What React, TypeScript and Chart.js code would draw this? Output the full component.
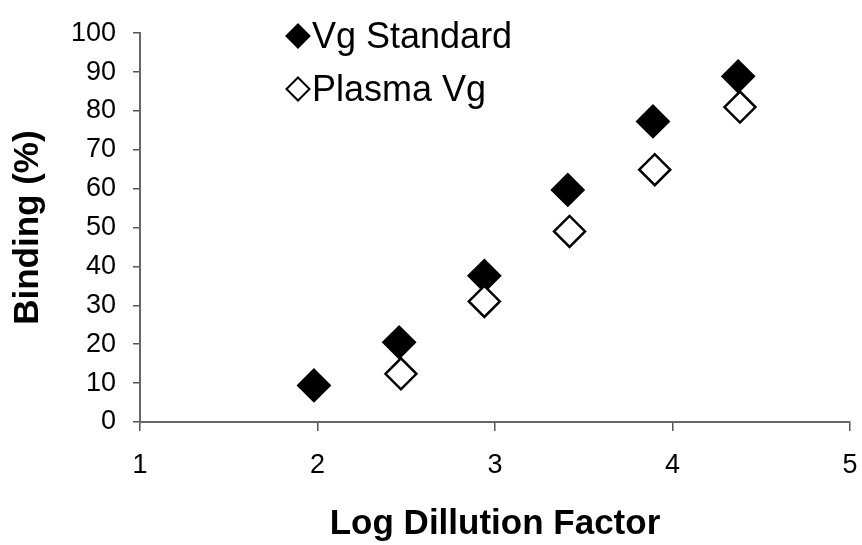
import React, { useEffect, useRef } from "react";
import { Chart, registerables } from "chart.js";

Chart.register(...registerables);

const seriesNames = ["Vg Standard", "Plasma Vg"];
const standardX = [1.98, 2.46, 2.94, 3.41, 3.89, 4.37];
const standardY = [9.4, 20.5, 37.6, 59.7, 77.3, 88.9];
const plasmaX = [2.47, 2.94, 3.42, 3.9, 4.38];
const plasmaY = [12.4, 31.0, 49.0, 64.9, 81.0];
const xTicks = [1, 2, 3, 4, 5];
const yTicks = [0, 10, 20, 30, 40, 50, 60, 70, 80, 90, 100];

const FONT = "'Liberation Sans', Arial, sans-serif";
const CANVAS_W = 868;
const CANVAS_H = 545;

const legendPlugin = {
  id: "customLegend",
  afterDraw(chart: any) {
    const ctx = chart.ctx;
    const items = chart.data.datasets.map((d: any) => ({
      label: d.label,
      fill: d.backgroundColor,
    }));
    const baseX = 298;
    const rows = [36, 89];
    ctx.save();
    items.forEach((it: any, i: number) => {
      const cy = rows[i];
      const r = 11.5;
      ctx.beginPath();
      ctx.moveTo(baseX, cy - r);
      ctx.lineTo(baseX + r, cy);
      ctx.lineTo(baseX, cy + r);
      ctx.lineTo(baseX - r, cy);
      ctx.closePath();
      ctx.fillStyle = it.fill;
      ctx.fill();
      ctx.lineWidth = 2;
      ctx.strokeStyle = "#000";
      ctx.stroke();
      ctx.fillStyle = "#000";
      ctx.font = `36px ${FONT}`;
      ctx.textBaseline = "middle";
      ctx.textAlign = "left";
      ctx.fillText(it.label, 312, cy + 2);
    });
    ctx.restore();
  },
};

export default function App() {
  const ref = useRef<HTMLCanvasElement | null>(null);

  useEffect(() => {
    document.body.style.margin = "0";
    if (!ref.current) return;
    const chart = new Chart(ref.current, {
      type: "scatter",
      data: {
        datasets: [
          {
            label: seriesNames[0],
            data: standardX.map((x, i) => ({ x, y: standardY[i] })),
            pointStyle: "rectRot",
            pointRadius: 16,
            pointHoverRadius: 16,
            borderWidth: 2,
            backgroundColor: "#000000",
            borderColor: "#000000",
            order: 1,
          },
          {
            label: seriesNames[1],
            data: plasmaX.map((x, i) => ({ x, y: plasmaY[i] })),
            pointStyle: "rectRot",
            pointRadius: 15.5,
            pointHoverRadius: 15.5,
            borderWidth: 2.5,
            backgroundColor: "#ffffff",
            borderColor: "#000000",
            order: 0,
          },
        ],
      },
      options: {
        animation: false,
        responsive: false,
        maintainAspectRatio: false,
        layout: { padding: { top: 32, right: 12, left: 0, bottom: 0 } },
        plugins: {
          legend: { display: false },
          tooltip: { enabled: false },
        },
        scales: {
          x: {
            type: "linear",
            min: 1,
            max: 5,
            afterBuildTicks: (scale: any) => {
              scale.ticks = xTicks.map((v) => ({ value: v }));
            },
            afterFit: (scale: any) => {
              scale.height = 123;
              scale.paddingLeft = 0;
              scale.paddingRight = 0;
            },
            ticks: {
              color: "#000",
              font: { family: FONT, size: 27 },
              padding: 18,
              maxRotation: 0,
            },
            grid: {
              drawOnChartArea: false,
              drawTicks: true,
              tickLength: 9,
              color: "#555",
              lineWidth: 1.5,
            },
            border: { display: true, color: "#666", width: 2 },
            title: {
              display: true,
              text: "Log Dillution Factor",
              color: "#000",
              font: { family: FONT, size: 35, weight: "bold" },
              padding: { top: 0, bottom: 0 },
            },
          },
          y: {
            type: "linear",
            min: 0,
            max: 100,
            afterBuildTicks: (scale: any) => {
              scale.ticks = yTicks.map((v) => ({ value: v }));
            },
            afterFit: (scale: any) => {
              scale.width = 140;
            },
            ticks: {
              color: "#000",
              font: { family: FONT, size: 27 },
              padding: 17,
            },
            grid: {
              drawOnChartArea: false,
              drawTicks: true,
              tickLength: 7,
              color: "#555",
              lineWidth: 1.5,
            },
            border: { display: true, color: "#666", width: 2 },
            title: {
              display: true,
              text: "Binding (%)",
              color: "#000",
              font: { family: FONT, size: 35, weight: "bold" },
              padding: { top: 7, bottom: 0 },
            },
          },
        },
      },
      plugins: [legendPlugin],
    });
    return () => chart.destroy();
  }, []);

  return (
    <div
      style={{
        position: "absolute",
        left: 0,
        top: 0,
        width: 862,
        height: 545,
        overflow: "hidden",
        background: "#fff",
      }}
    >
      <canvas
        ref={ref}
        width={CANVAS_W}
        height={CANVAS_H}
        style={{ width: CANVAS_W, height: CANVAS_H, display: "block" }}
      />
    </div>
  );
}
